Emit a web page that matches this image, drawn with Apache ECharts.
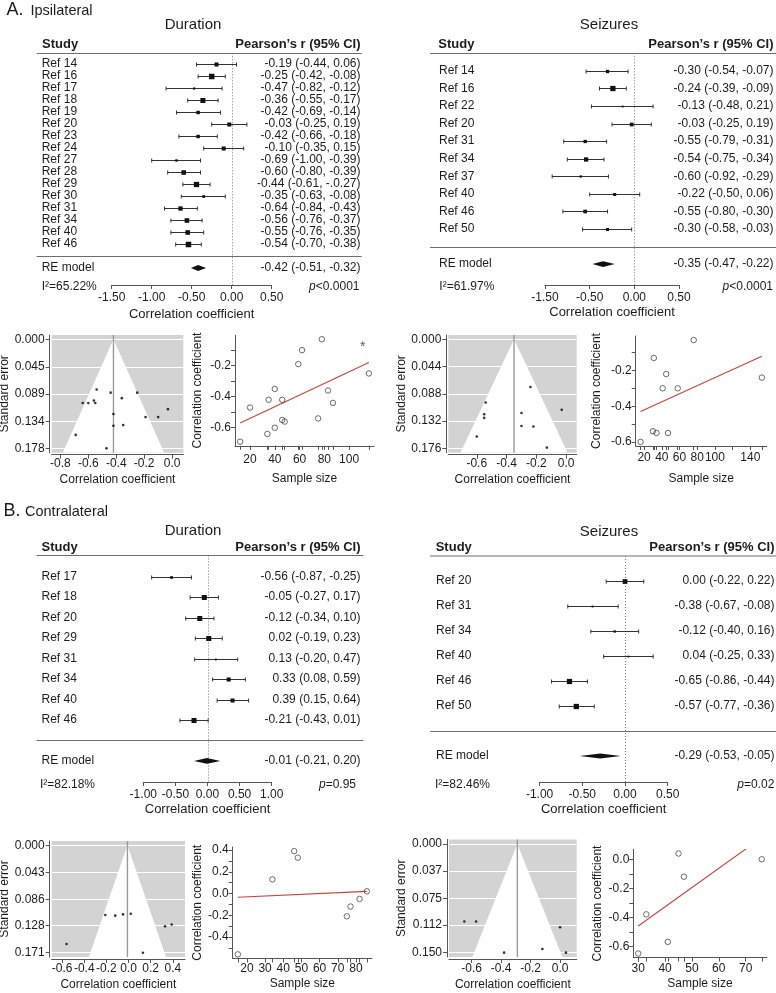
<!DOCTYPE html>
<html>
<head>
<meta charset="utf-8">
<title>Meta-analysis: forest, funnel and scatter plots</title>
<script src="https://cdn.jsdelivr.net/npm/echarts@6.0.0/dist/echarts.min.js"></script>
<style>
html,body{margin:0;padding:0;background:#fff;}
#chart{width:776px;height:993px;}
</style>
</head>
<body>
<div id="chart"></div>
<script>
// ================= DATA =================
// ---- A. Ipsilateral / Duration ----
const aDurStudies = ['Ref 14','Ref 16','Ref 17','Ref 18','Ref 19','Ref 20','Ref 23','Ref 24','Ref 27','Ref 28','Ref 29','Ref 30','Ref 31','Ref 34','Ref 40','Ref 46'];
const aDurR  = [-0.19,-0.25,-0.47,-0.36,-0.42,-0.03,-0.42,-0.10,-0.69,-0.60,-0.44,-0.35,-0.64,-0.56,-0.55,-0.54];
const aDurLo = [-0.44,-0.42,-0.82,-0.55,-0.69,-0.25,-0.66,-0.35,-1.00,-0.80,-0.61,-0.63,-0.84,-0.76,-0.76,-0.70];
const aDurHi = [ 0.06,-0.08,-0.12,-0.17,-0.14, 0.19,-0.18, 0.15,-0.39,-0.39,-0.27,-0.08,-0.43,-0.37,-0.35,-0.38];
const aDurWeight = [6.5,8.9,3.5,8.1,5.6,6.5,5.6,6.5,3.9,7.4,8.5,4.4,6.9,7.4,7.4,8.9];
const aDurRE = [-0.42,-0.51,-0.32];
const aDurI2 = '65.22%';
const aDurP = '<0.0001';
const aDurCIPrinted = {'Ref 29': '-0.44 (-0.61, -.0.27)'};   // as printed in the figure
const aDurForestTicks = ['-1.50','-1.00','-0.50','0.00','0.50'];
const aDurSE = [0.127,0.087,0.178,0.096,0.141,0.114,0.122,0.127,0.156,0.104,0.087,0.140,0.104,0.100,0.104,0.082];
const aDurSETicks = ['0.000','0.045','0.089','0.134','0.178'];
const aDurFunnelXTicks = [-0.8,-0.6,-0.4,-0.2,0.0];
const aDurN  = [12,20,35,40,34,40,46,46,48,59,62,78,75,83,87,116];
const aDurNR = [-0.69,-0.47,-0.42,-0.35,-0.64,-0.60,-0.42,-0.55,-0.56,-0.19,-0.10,-0.03,-0.54,-0.36,-0.44,-0.25];
const aDurFitN = [12,116];
const aDurFitR = [-0.57,-0.18];
const aDurStar = [111,-0.06];
const aDurNTicks = [20,40,60,80,100];
const aDurNLabels = [20,40,60,80,100];
const aDurRTicks = [-0.6,-0.5,-0.4,-0.3,-0.2,-0.1];
const aDurRLabels = [-0.6,-0.4,-0.2];

// ---- A. Ipsilateral / Seizures ----
const aSeizStudies = ['Ref 14','Ref 16','Ref 22','Ref 20','Ref 31','Ref 34','Ref 37','Ref 40','Ref 46','Ref 50'];
const aSeizR  = [-0.30,-0.24,-0.13,-0.03,-0.55,-0.54,-0.60,-0.22,-0.55,-0.30];
const aSeizLo = [-0.54,-0.39,-0.48,-0.25,-0.79,-0.75,-0.92,-0.50,-0.80,-0.58];
const aSeizHi = [-0.07,-0.09, 0.21, 0.19,-0.31,-0.34,-0.29, 0.06,-0.30,-0.03];
const aSeizWeight = [5.3,8.5,2.9,6.0,5.3,6.9,3.7,4.8,6.0,4.8];
const aSeizRE = [-0.35,-0.47,-0.22];
const aSeizI2 = '61.97%';
const aSeizP = '<0.0001';
const aSeizForestTicks = ['-1.50','-0.50','0.00','0.50'];
const aSeizSE = [0.119,0.077,0.175,0.114,0.121,0.102,0.157,0.141,0.127,0.140];
const aSeizSETicks = ['0.000','0.044','0.088','0.132','0.176'];
const aSeizFunnelXTicks = [-0.6,-0.4,-0.2,0.0];
const aSeizN  = [16,31,30,34,41,45,47,58,76,153];
const aSeizNR = [-0.60,-0.13,-0.54,-0.55,-0.30,-0.22,-0.55,-0.30,-0.03,-0.24];
const aSeizFitN = [16,153];
const aSeizFitR = [-0.43,-0.12];
const aSeizNTicks = [20,40,60,80,100,120,140];
const aSeizNLabels = [20,40,60,80,100,140];
const aSeizRTicks = [-0.6,-0.5,-0.4,-0.3,-0.2,-0.1];
const aSeizRLabels = [-0.6,-0.4,-0.2];

// ---- B. Contralateral / Duration ----
const bDurStudies = ['Ref 17','Ref 18','Ref 20','Ref 29','Ref 31','Ref 34','Ref 40','Ref 46'];
const bDurR  = [-0.56,-0.05,-0.12,0.02,0.13,0.33,0.39,-0.21];
const bDurLo = [-0.87,-0.27,-0.34,-0.19,-0.20,0.08,0.15,-0.43];
const bDurHi = [-0.25,0.17,0.10,0.23,0.47,0.59,0.64,0.01];
const bDurWeight = [4.4,8.1,8.1,8.1,2.9,6.5,6.5,8.1];
const bDurRE = [-0.01,-0.21,0.20];
const bDurI2 = '82.18%';
const bDurP = '=0.95';
const bDurForestTicks = ['-1.00','-0.50','0.00','0.50','1.00'];
const bDurSE = [0.157,0.110,0.112,0.109,0.171,0.129,0.126,0.111];
const bDurSETicks = ['0.000','0.043','0.086','0.128','0.171'];
const bDurFunnelXTicks = [-0.6,-0.4,-0.2,0.0,0.2,0.4];
const bDurN  = [15,34,46,48,75,77,82,86];
const bDurNR = [-0.56,0.13,0.39,0.33,-0.21,-0.12,-0.05,0.02];
const bDurFitN = [15,86];
const bDurFitR = [-0.035,0.02];
const bDurNTicks = [20,30,40,50,60,70,80];
const bDurNLabels = [20,30,40,50,60,70,80];
const bDurRTicks = [-0.5,-0.4,-0.3,-0.2,-0.1,0,0.1,0.2,0.3,0.4];
const bDurRLabels = [-0.4,-0.2,0,0.2,0.4];

// ---- B. Contralateral / Seizures ----
const bSeizStudies = ['Ref 20','Ref 31','Ref 34','Ref 40','Ref 46','Ref 50'];
const bSeizR  = [0.00,-0.38,-0.12,0.04,-0.65,-0.57];
const bSeizLo = [-0.22,-0.67,-0.40,-0.25,-0.86,-0.77];
const bSeizHi = [0.22,-0.08,0.16,0.33,-0.44,-0.36];
const bSeizWeight = [7.6,2.9,3.7,2.9,8.5,8.5];
const bSeizRE = [-0.29,-0.53,-0.05];
const bSeizI2 = '82.46%';
const bSeizP = '=0.02';
const bSeizForestTicks = ['-1.00','-0.50','0.00','0.50'];
const bSeizSE = [0.115,0.150,0.145,0.150,0.107,0.107];
const bSeizSETicks = ['0.000','0.037','0.075','0.112','0.150'];
const bSeizFunnelXTicks = [-0.6,-0.4,-0.2,0.0];
const bSeizN  = [30,33,41,45,47,76];
const bSeizNR = [-0.65,-0.38,-0.57,0.04,-0.12,0.00];
const bSeizFitN = [30,76];
const bSeizFitR = [-0.46,0.15];
const bSeizNTicks = [30,40,50,60,70];
const bSeizNLabels = [30,40,50,60,70];
const bSeizRTicks = [-0.6,-0.5,-0.4,-0.3,-0.2,-0.1,0];
const bSeizRLabels = [-0.6,-0.4,-0.2,0];

// ================= STYLE / HELPERS =================
const FONT = '"Liberation Sans", Arial, Helvetica, sans-serif';
const INK = '#1c1c1c';
const AXC = '#555555';

function merge(a, b) {
  const o = Object.assign({}, a);
  for (const k in b) {
    const v = b[k];
    if (v && typeof v === 'object' && !Array.isArray(v) && o[k] && typeof o[k] === 'object' && !Array.isArray(o[k])) o[k] = merge(o[k], v);
    else o[k] = v;
  }
  return o;
}
function baseAxis(extra) {
  return merge({
    type: 'value',
    axisLine: {show: true, onZero: false, lineStyle: {color: AXC, width: 1}},
    axisTick: {show: true, length: 4, lineStyle: {color: AXC, width: 1}},
    splitLine: {show: false},
    axisLabel: {color: INK, fontSize: 12, fontFamily: FONT},
    nameTextStyle: {color: INK, fontSize: 12, fontFamily: FONT}
  }, extra);
}
function padRange(arr) {
  const mn = Math.min.apply(null, arr), mx = Math.max.apply(null, arr);
  const d = (mx - mn) * 0.04;
  return [mn - d, mx + d];
}
function nearestIdx(list, v) {
  let b = 0;
  list.forEach((x, i) => { if (Math.abs(x - v) < Math.abs(list[b] - v)) b = i; });
  return b;
}

const option = {
  animation: false,
  backgroundColor: '#ffffff',
  textStyle: {fontFamily: FONT, color: INK},
  grid: [], xAxis: [], yAxis: [], series: [], graphic: []
};
const forestRefs = [];

function addGrid(g) {
  option.grid.push(merge({outerBoundsMode: 'none', containLabel: false, show: false}, g));
  return option.grid.length - 1;
}

// ---------- forest plot ----------
function forest(p) {
  const gi = addGrid({left: p.left, top: p.top, width: p.width, height: p.height});
  const N = p.studies.length, reRow = N + 2;
  const names = {}, cis = {};
  const ci = (e, l, h) => e.toFixed(2) + ' (' + l.toFixed(2) + ', ' + h.toFixed(2) + ')';
  const printed = p.printed || {};
  p.studies.forEach((s, i) => {
    names[i + 1] = s;
    cis[i + 1] = printed[s] || ci(p.r[i], p.lo[i], p.hi[i]);
  });
  names[reRow] = 'RE model';
  cis[reRow] = ci(p.re[0], p.re[1], p.re[2]);
  const rows = p.studies.map((s, i) => i + 1).concat([reRow]);

  const xi = option.xAxis.length;
  option.xAxis.push(baseAxis({
    gridIndex: gi, min: p.xMin, max: p.xMax, interval: 0.5,
    axisLabel: {margin: p.labMargin, formatter: v => p.xLabels[Math.round((v - p.xMin) / 0.5)] || ''},
    name: 'Correlation coefficient', nameLocation: 'middle', nameGap: p.nameGap,
    nameTextStyle: {fontSize: 13}
  }));
  const yi = option.yAxis.length;
  const yCommon = {gridIndex: gi, type: 'value', inverse: true, min: p.rowMin, max: p.rowMax,
    axisLine: {show: false}, axisTick: {show: false}, splitLine: {show: false}};
  option.yAxis.push(merge(yCommon, {position: 'left', axisLabel: {
    customValues: rows, formatter: v => names[Math.round(v)] || '', align: 'left',
    margin: p.left - p.labelX, color: INK, fontSize: 12, fontFamily: FONT}}));
  option.yAxis.push(merge(yCommon, {position: 'right', axisLabel: {
    customValues: rows, formatter: v => cis[Math.round(v)] || '', align: 'right',
    margin: p.ciRight - (p.left + p.width), color: INK, fontSize: 12, fontFamily: FONT}}));

  // dotted zero line
  option.series.push({
    type: 'custom', xAxisIndex: xi, yAxisIndex: yi, silent: true, z: 1, data: [[0, 1]],
    renderItem: (params, api) => {
      const cs = params.coordSys;
      const x = Math.round(api.coord([api.value(0), api.value(1)])[0]) + 0.5;
      return {type: 'line', shape: {x1: x, y1: cs.y, x2: x, y2: cs.y + cs.height},
        style: {stroke: '#777', lineWidth: 1, lineDash: [1, 2]}};
    }
  });
  // study estimates with CI whiskers
  option.series.push({
    type: 'custom', xAxisIndex: xi, yAxisIndex: yi, silent: true, z: 3,
    data: p.r.map((e, i) => [e, i + 1, p.lo[i], p.hi[i], p.w[i]]),
    renderItem: (params, api) => {
      const y = api.value(1);
      const pc = api.coord([api.value(0), y]);
      const pl = api.coord([api.value(2), y]);
      const ph = api.coord([api.value(3), y]);
      const yy = Math.round(pc[1]) + 0.5;
      const side = api.value(4) * 0.62;
      const st = {stroke: '#333', lineWidth: 1};
      return {type: 'group', children: [
        {type: 'line', shape: {x1: pl[0], y1: yy, x2: ph[0], y2: yy}, style: st},
        {type: 'line', shape: {x1: pl[0], y1: yy - 2, x2: pl[0], y2: yy + 2}, style: st},
        {type: 'line', shape: {x1: ph[0], y1: yy - 2, x2: ph[0], y2: yy + 2}, style: st},
        {type: 'rect', shape: {x: pc[0] - side / 2, y: yy - side / 2, width: side, height: side}, style: {fill: '#111'}}
      ]};
    }
  });
  // RE model diamond
  option.series.push({
    type: 'custom', xAxisIndex: xi, yAxisIndex: yi, silent: true, z: 3,
    data: [[p.re[0], reRow, p.re[1], p.re[2]]],
    renderItem: (params, api) => {
      const y = api.value(1);
      const pc = api.coord([api.value(0), y]);
      const pl = api.coord([api.value(2), y]);
      const ph = api.coord([api.value(3), y]);
      const h = p.diamondH;
      return {type: 'polygon', shape: {points: [[pl[0], pc[1]], [pc[0], pc[1] - h], [ph[0], pc[1]], [pc[0], pc[1] + h]]},
        style: {fill: '#111'}};
    }
  });
  forestRefs.push({gi: gi, sepRow: N + 1, lineX: p.lineX, x: p.xMin});
}

// ---------- funnel plot ----------
function funnel(p) {
  const gi = addGrid({left: p.left, top: p.top, width: p.width, height: p.height,
    show: true, backgroundColor: '#d3d3d3', borderWidth: 0});
  const yt = p.seTicks.map(Number);
  const xi = option.xAxis.length;
  option.xAxis.push(baseAxis({
    gridIndex: gi, min: p.xMin, max: p.xMax, offset: 2,
    axisTick: {customValues: p.xTicks},
    axisLabel: {customValues: p.xTicks, formatter: v => v.toFixed(1), margin: p.xLabMargin},
    name: 'Correlation coefficient', nameLocation: 'middle', nameGap: p.xNameGap
  }));
  const yi = option.yAxis.length;
  option.yAxis.push(baseAxis({
    gridIndex: gi, inverse: true, min: p.yMin, max: p.yMax, offset: 2,
    axisTick: {customValues: yt},
    axisLabel: {customValues: yt, formatter: v => p.seTicks[nearestIdx(yt, v)], margin: 5},
    splitLine: {show: true, lineStyle: {color: '#ffffff', width: 1}},
    name: 'Standard error', nameLocation: 'middle', nameGap: p.yNameGap
  }));
  // pseudo confidence region (white triangle)
  option.series.push({
    type: 'custom', xAxisIndex: xi, yAxisIndex: yi, silent: true, z: 1, clip: true,
    data: [[p.center, 0]],
    renderItem: (params, api) => {
      const c = api.value(0), yb = p.yMax;
      return {type: 'polygon', shape: {points: [api.coord([c, 0]), api.coord([c - 1.96 * yb, yb]), api.coord([c + 1.96 * yb, yb])]},
        style: {fill: '#ffffff'}};
    }
  });
  // vertical line at pooled estimate
  option.series.push({
    type: 'custom', xAxisIndex: xi, yAxisIndex: yi, silent: true, z: 2,
    data: [[p.center, 0]],
    renderItem: (params, api) => {
      const cs = params.coordSys;
      const x = api.coord([api.value(0), 0])[0];
      return {type: 'line', shape: {x1: x, y1: cs.y, x2: x, y2: cs.y + cs.height},
        style: {stroke: '#9a9a9a', lineWidth: 1.4}};
    }
  });
  option.series.push({
    type: 'scatter', xAxisIndex: xi, yAxisIndex: yi, silent: true, z: 3,
    symbol: 'circle', symbolSize: 2.6, itemStyle: {color: '#000'},
    data: p.r.map((r, i) => [r, p.se[i]])
  });
}

// ---------- scatter (r vs sample size) ----------
function scatter(p) {
  const gi = addGrid({left: p.left, top: p.top, width: p.width, height: p.height});
  const xr = padRange(p.n), yr = padRange(p.r);
  const xi = option.xAxis.length;
  option.xAxis.push(baseAxis({
    gridIndex: gi, min: xr[0], max: xr[1],
    axisTick: {customValues: p.nTicks.concat(p.n)},
    axisLabel: {customValues: p.nLabels, formatter: v => String(Math.round(v)), margin: p.xLabMargin},
    name: 'Sample size', nameLocation: 'middle', nameGap: p.xNameGap
  }));
  const yi = option.yAxis.length;
  option.yAxis.push(baseAxis({
    gridIndex: gi, min: yr[0], max: yr[1],
    axisTick: {customValues: p.rTicks},
    axisLabel: {customValues: p.rLabels, formatter: v => (Math.abs(v) < 1e-9 ? 0 : v).toFixed(1), margin: 4},
    name: 'Correlation coefficient', nameLocation: 'middle', nameGap: p.yNameGap
  }));
  option.series.push({
    type: 'line', xAxisIndex: xi, yAxisIndex: yi, silent: true, z: 2, clip: true,
    symbol: 'none', lineStyle: {color: '#c8423c', width: 1.1},
    data: p.fitN.map((n, i) => [n, p.fitR[i]])
  });
  option.series.push({
    type: 'scatter', xAxisIndex: xi, yAxisIndex: yi, silent: true, z: 3,
    symbol: 'circle', symbolSize: 5.5,
    itemStyle: {color: 'rgba(0,0,0,0)', borderColor: '#333', borderWidth: 0.9},
    data: p.n.map((n, i) => [n, p.r[i]])
  });
  if (p.star) {
    option.series.push({
      type: 'scatter', xAxisIndex: xi, yAxisIndex: yi, silent: true, z: 3,
      symbol: 'circle', symbolSize: 1, itemStyle: {color: 'rgba(0,0,0,0)'},
      label: {show: true, position: 'inside', formatter: '*', fontSize: 14, color: '#333', offset: [0, 3]},
      data: [p.star]
    });
  }
}

// ================= PANELS =================
forest({studies: aDurStudies, r: aDurR, lo: aDurLo, hi: aDurHi, w: aDurWeight, re: aDurRE, printed: aDurCIPrinted,
  left: 111.7, top: 53.3, width: 160, height: 231.7, rowMin: 0.108, rowMax: 19.42,
  xMin: -1.5, xMax: 0.5, xLabels: aDurForestTicks, labMargin: 7, nameGap: 23,
  labelX: 41.7, ciRight: 360.5, diamondH: 3, lineX: [36.7, 361.7]});
forest({studies: aSeizStudies, r: aSeizR, lo: aSeizLo, hi: aSeizHi, w: aSeizWeight, re: aSeizRE,
  left: 545, top: 53.3, width: 134, height: 231.7, rowMin: 0, rowMax: 13.19,
  xMin: -1.0, xMax: 0.5, xLabels: aSeizForestTicks, labMargin: 7, nameGap: 21,
  labelX: 439, ciRight: 773.5, diamondH: 2.8, lineX: [430, 776]});
forest({studies: bDurStudies, r: bDurR, lo: bDurLo, hi: bDurHi, w: bDurWeight, re: bDurRE,
  left: 143.3, top: 555.5, width: 128.4, height: 226.5, rowMin: -0.036, rowMax: 11.03,
  xMin: -1.0, xMax: 1.0, xLabels: bDurForestTicks, labMargin: 7, nameGap: 21,
  labelX: 41.5, ciRight: 360.5, diamondH: 2.8, lineX: [36.7, 363.3]});
forest({studies: bSeizStudies, r: bSeizR, lo: bSeizLo, hi: bSeizHi, w: bSeizWeight, re: bSeizRE,
  left: 539.6, top: 556, width: 128.1, height: 226, rowMin: 0, rowMax: 9.04,
  xMin: -1.0, xMax: 0.5, xLabels: bSeizForestTicks, labMargin: 7, nameGap: 21,
  labelX: 436, ciRight: 774.5, diamondH: 2.5, lineX: [430, 776]});

funnel({r: aDurR, se: aDurSE, center: aDurRE[0], seTicks: aDurSETicks, xTicks: aDurFunnelXTicks,
  left: 51.7, top: 335, width: 131.6, height: 117.7, xMin: -0.862, xMax: 0.080, yMin: -0.0071, yMax: 0.1851,
  xLabMargin: 3, xNameGap: 19, yNameGap: 34.5});
funnel({r: aSeizR, se: aSeizSE, center: aSeizRE[0], seTicks: aSeizSETicks, xTicks: aSeizFunnelXTicks,
  left: 448.3, top: 335, width: 128.4, height: 117.7, xMin: -0.791, xMax: 0.0705, yMin: -0.0069, yMax: 0.1832,
  xLabMargin: 3, xNameGap: 19, yNameGap: 33});
funnel({r: bDurR, se: bDurSE, center: bDurRE[0], seTicks: bDurSETicks, xTicks: bDurFunnelXTicks,
  left: 51.7, top: 841, width: 133.3, height: 116, xMin: -0.694, xMax: 0.51, yMin: -0.0068, yMax: 0.1778,
  xLabMargin: 3.5, xNameGap: 19.5, yNameGap: 34.5});
funnel({r: bSeizR, se: bSeizSE, center: bSeizRE[0], seTicks: bSeizSETicks, xTicks: bSeizFunnelXTicks,
  left: 449, top: 839.5, width: 127.7, height: 117.5, xMin: -0.754, xMax: 0.113, yMin: -0.0062, yMax: 0.156,
  xLabMargin: 3.5, xNameGap: 19.5, yNameGap: 33.5});

scatter({n: aDurN, r: aDurNR, fitN: aDurFitN, fitR: aDurFitR, star: aDurStar,
  nTicks: aDurNTicks, nLabels: aDurNLabels, rTicks: aDurRTicks, rLabels: aDurRLabels,
  left: 235, top: 335.2, width: 139, height: 110.6, xLabMargin: 8, xNameGap: 27, yNameGap: 31});
scatter({n: aSeizN, r: aSeizNR, fitN: aSeizFitN, fitR: aSeizFitR,
  nTicks: aSeizNTicks, nLabels: aSeizNLabels, rTicks: aSeizRTicks, rLabels: aSeizRLabels,
  left: 635.7, top: 336, width: 131, height: 110, xLabMargin: 6, xNameGap: 27, yNameGap: 33});
scatter({n: bDurN, r: bDurNR, fitN: bDurFitN, fitR: bDurFitR,
  nTicks: bDurNTicks, nLabels: bDurNLabels, rTicks: bDurRTicks, rLabels: bDurRLabels,
  left: 232.7, top: 847, width: 139.3, height: 111.5, xLabMargin: 4, xNameGap: 19.5, yNameGap: 21});
scatter({n: bSeizN, r: bSeizNR, fitN: bSeizFitN, fitR: bSeizFitR,
  nTicks: bSeizNTicks, nLabels: bSeizNLabels, rTicks: bSeizRTicks, rLabels: bSeizRLabels,
  left: 633.3, top: 849.5, width: 133.4, height: 108, xLabMargin: 5, xNameGap: 20, yNameGap: 30});

// ================= TEXT / TABLE RULES =================
const G = option.graphic;
function text(x, y, str, st) {
  G.push({type: 'text', x: x, y: y, silent: true,
    style: merge({text: str, fill: INK, fontFamily: FONT, fontSize: 12, align: 'left', verticalAlign: 'middle'}, st || {})});
}
function rule(x1, x2, y) {
  G.push({type: 'line', silent: true, shape: {x1: x1, y1: y, x2: x2, y2: y}, style: {stroke: '#6e6e6e', lineWidth: 1}});
}
function stat(xl, xr, y, i2, p) {
  text(xl, y, 'I\u00b2=' + i2);
  G.push({type: 'text', x: xr, y: y, silent: true, style: {
    text: '{i|p}{n|' + p + '}', align: 'right', verticalAlign: 'middle',
    rich: {i: {fontStyle: 'italic', fontSize: 12, fontFamily: FONT, fill: INK, color: INK},
           n: {fontSize: 12, fontFamily: FONT, fill: INK, color: INK}}}});
}

text(6.5, 9.8, 'A.', {fontSize: 18});
text(30.5, 11, 'Ipsilateral', {fontSize: 14.5});
text(3.5, 511, 'B.', {fontSize: 18});
text(25, 512, 'Contralateral', {fontSize: 14.5});

text(193, 25, 'Duration', {fontSize: 15, align: 'center'});
text(609, 24.5, 'Seizures', {fontSize: 15, align: 'center'});
text(193, 531, 'Duration', {fontSize: 15, align: 'center'});
text(609, 531.7, 'Seizures', {fontSize: 15, align: 'center'});

const HDR = {fontSize: 13, fontWeight: 'bold'};
text(42, 44.5, 'Study', HDR);
text(360.5, 44.5, 'Pearson\u2019s r (95% CI)', merge(HDR, {align: 'right'}));
text(438.3, 44.5, 'Study', HDR);
text(773.5, 44.5, 'Pearson\u2019s r (95% CI)', merge(HDR, {align: 'right'}));
text(41.5, 547.7, 'Study', HDR);
text(360.5, 547.7, 'Pearson\u2019s r (95% CI)', merge(HDR, {align: 'right'}));
text(435.7, 547.7, 'Study', HDR);
text(774.5, 547.7, 'Pearson\u2019s r (95% CI)', merge(HDR, {align: 'right'}));

rule(36.7, 361.7, 53.5);
rule(430, 776, 53.5);
rule(36.7, 363.3, 555.5);
rule(430, 776, 556);

stat(41.7, 359.5, 286.7, aDurI2, aDurP);
stat(439.3, 773, 286.7, aSeizI2, aSeizP);
stat(40, 356, 784.3, bDurI2, bDurP);
stat(435, 774.3, 785, bSeizI2, bSeizP);

const chart = echarts.init(document.getElementById('chart'), null, {renderer: 'canvas'});
chart.setOption(option);

// separator rules placed on the blank row between studies and the pooled estimate
forestRefs.forEach(f => {
  const pt = chart.convertToPixel({gridIndex: f.gi}, [f.x, f.sepRow]);
  if (pt) rule(f.lineX[0], f.lineX[1], Math.round(pt[1]) + 0.5);
});
chart.setOption({graphic: G});
</script>
</body>
</html>
